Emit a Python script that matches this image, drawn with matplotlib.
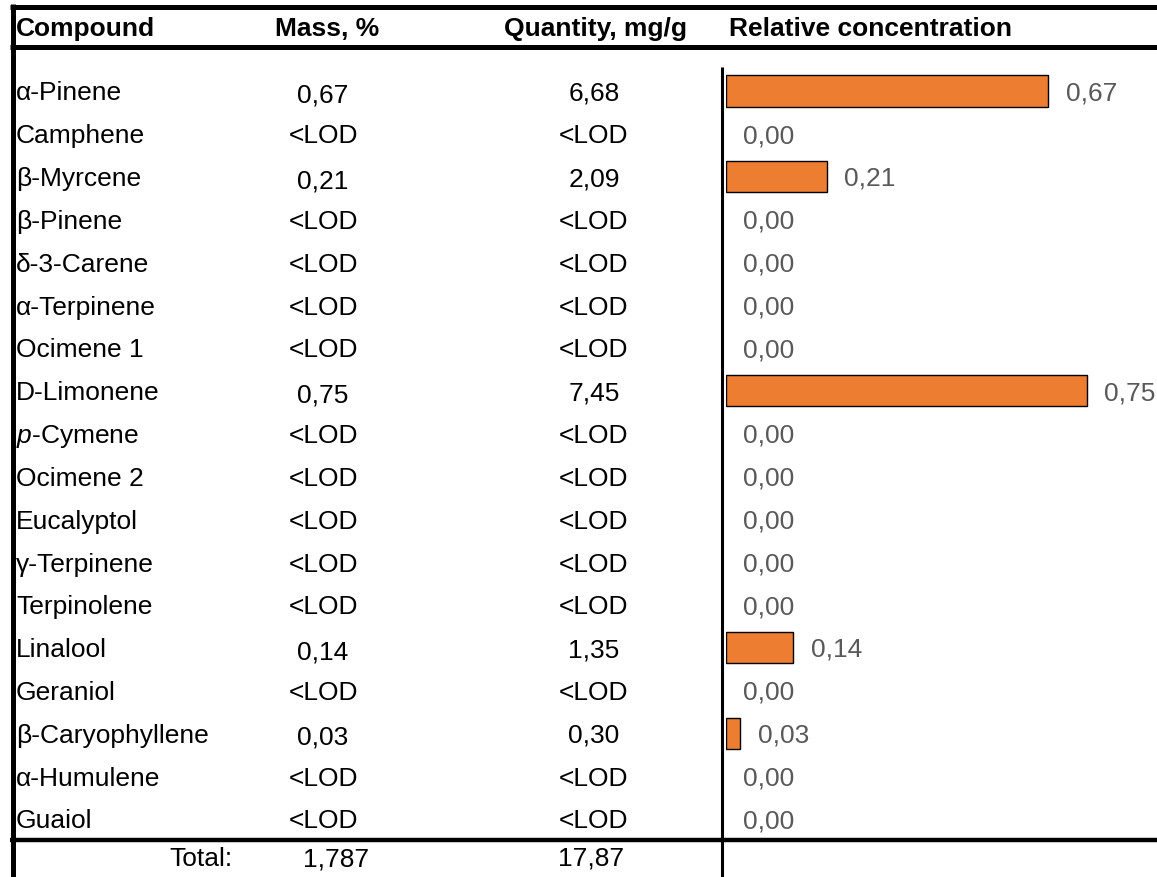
import matplotlib.pyplot as plt

plt.rcParams['font.family'] = ['Liberation Sans', 'DejaVu Sans']
plt.rcParams['mathtext.fontset'] = 'custom'
plt.rcParams['mathtext.it'] = 'Liberation Sans:italic'
plt.rcParams['mathtext.rm'] = 'Liberation Sans'

# terpene profile
compounds = ['α-Pinene', 'Camphene', 'β-Myrcene', 'β-Pinene', 'δ-3-Carene',
             'α-Terpinene', 'Ocimene 1', 'D-Limonene', '$p$-Cymene', 'Ocimene 2',
             'Eucalyptol', 'γ-Terpinene', 'Terpinolene', 'Linalool', 'Geraniol',
             'β-Caryophyllene', 'α-Humulene', 'Guaiol']
mass = [0.67, None, 0.21, None, None, None, None, 0.75, None, None,
        None, None, None, 0.14, None, 0.03, None, None]
quantity = [6.68, None, 2.09, None, None, None, None, 7.45, None, None,
            None, None, None, 1.35, None, 0.30, None, None]
total_mass = '1,787'
total_quantity = '17,87'
headers = ['Compound', 'Mass, %', 'Quantity, mg/g', 'Relative concentration']

W, H = 1157, 878
Y0, DY = 92, 42.82
FS = 19
ORANGE = '#ED7D31'
GREY = '#595959'


def fmt(v):
    return '<LOD' if v is None else f'{v:.2f}'.replace('.', ',')


fig = plt.figure(figsize=(W / 100, H / 100), dpi=100)
ax = fig.add_axes([0, 0, 1, 1])
ax.set_xlim(0, W)
ax.set_ylim(H, 0)
ax.axis('off')

# table rules
ax.plot([10, W], [7.5, 7.5], color='black', lw=3.6, solid_capstyle='butt')
ax.plot([10, W], [48, 48], color='black', lw=3.6, solid_capstyle='butt')
ax.plot([10, W], [841, 841], color='black', lw=3.2, solid_capstyle='butt')
ax.plot([12.5, 12.5], [5, H], color='black', lw=3.6, solid_capstyle='butt')
ax.plot([722, 722], [68, H], color='black', lw=2.2, solid_capstyle='butt')

# header
ax.text(16, 29, headers[0], fontsize=FS, fontweight='bold', va='center', ha='left')
ax.text(327, 29, headers[1], fontsize=FS, fontweight='bold', va='center', ha='center')
ax.text(595, 29, headers[2], fontsize=FS, fontweight='bold', va='center', ha='center')
ax.text(729, 29, headers[3], fontsize=FS, fontweight='bold', va='center', ha='left')

for i, name in enumerate(compounds):
    y = Y0 + i * DY + 1.5
    ax.text(16, y, name, fontsize=FS, va='center', ha='left')
    ax.text(323, y + (2 if mass[i] is not None else 0), fmt(mass[i]),
            fontsize=FS, va='center', ha='center')
    ax.text(594, y, fmt(quantity[i]), fontsize=FS, va='center', ha='center')

ax.text(233, 859, 'Total:', fontsize=FS, va='center', ha='right')
ax.text(336, 860, total_mass, fontsize=FS, va='center', ha='center')
ax.text(591, 859, total_quantity, fontsize=FS, va='center', ha='center')

# relative concentration bars
scale = 481.3  # px per unit
bx = fig.add_axes([726 / W, 0, 1 - 726 / W, 1])
bx.set_xlim(0, (W - 726) / scale)
bx.set_ylim((H - Y0) / DY, -Y0 / DY)
bx.axis('off')

rel = [0.0 if v is None else v for v in mass]
rows = list(range(len(compounds)))
edges = ['black' if v > 0 else 'none' for v in rel]
bx.barh(rows, rel, height=0.73, color=ORANGE, edgecolor=edges, linewidth=1.0)
for i, v in zip(rows, rel):
    bx.annotate(f'{v:.2f}'.replace('.', ','), (v, i + 0.03), xytext=(12.5, 0),
                textcoords='offset points', va='center', ha='left',
                fontsize=FS, color=GREY, annotation_clip=False)

fig.savefig('out.png', dpi=100)
